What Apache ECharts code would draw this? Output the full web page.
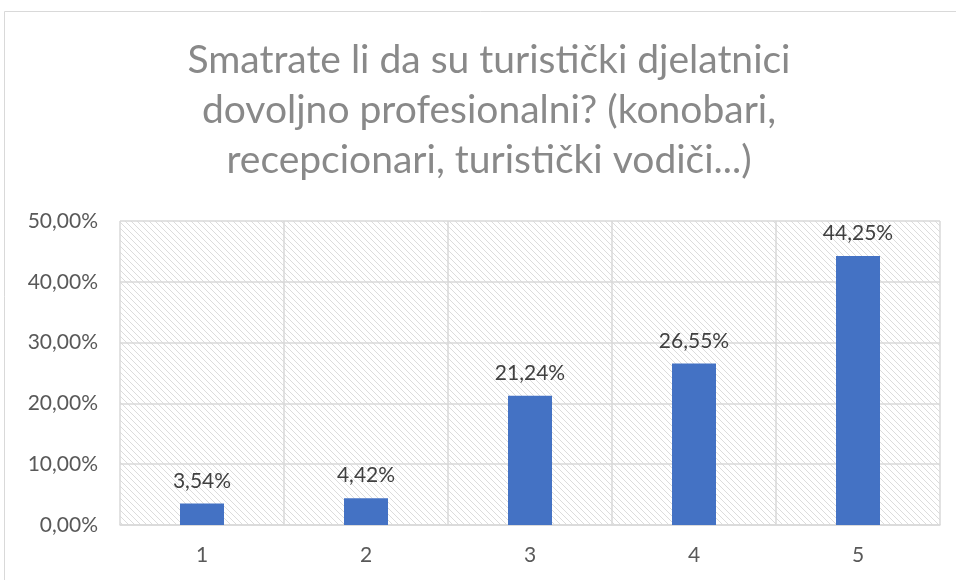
<!DOCTYPE html>
<html>
<head>
<meta charset="utf-8">
<script src="https://cdn.jsdelivr.net/npm/echarts@6/dist/echarts.min.js"></script>
<style>
  html, body { margin: 0; padding: 0; background: #fff; }
  #chart { width: 956px; height: 580px; }
</style>
</head>
<body>
<div id="chart"></div>
<script>
const titleText = "Smatrate li da su turistički djelatnici\ndovoljno profesionalni? (konobari,\nrecepcionari, turistički vodiči...)";
const categories = ["1", "2", "3", "4", "5"];
const values = [3.54, 4.42, 21.24, 26.55, 44.25];
const yTicks = [0, 10, 20, 30, 40, 50];

const fmt = (v) => v.toFixed(2).replace(".", ",") + "%";

// diagonal hatch for plot background
function hatch() {
  const c = document.createElement("canvas");
  c.width = 6;
  c.height = 6;
  const ctx = c.getContext("2d");
  ctx.fillStyle = "#fff";
  ctx.fillRect(0, 0, 6, 6);
  ctx.strokeStyle = "#dcdcdc";
  ctx.lineWidth = 1;
  ctx.beginPath();
  ctx.moveTo(-1, -1);
  ctx.lineTo(7, 7);
  ctx.moveTo(-4, 2);
  ctx.lineTo(4, 10);
  ctx.moveTo(2, -4);
  ctx.lineTo(10, 4);
  ctx.stroke();
  return c;
}

const chart = echarts.init(document.getElementById("chart"), null, { renderer: "canvas" });
chart.setOption({
  backgroundColor: "#fff",
  textStyle: { fontFamily: "Lato" },
  graphic: [
    {
      type: "rect",
      shape: { x: 4.5, y: 11.5, width: 960, height: 600 },
      style: { fill: "none", stroke: "#d9d9d9", lineWidth: 1 },
      silent: true,
    },
  ],
  title: {
    text: titleText,
    left: 484,
    top: 30,
    textAlign: "center",
    textStyle: { color: "#898989", fontSize: 39, fontWeight: "normal", lineHeight: 50, fontFamily: "Lato" },
  },
  grid: {
    left: 120,
    right: 16,
    top: 221,
    bottom: 55,
    show: true,
    borderWidth: 0,
    backgroundColor: { image: hatch(), repeat: "repeat" },
  },
  xAxis: {
    type: "category",
    data: categories,
    axisLine: { lineStyle: { color: "#d9d9d9", width: 1.5 } },
    axisTick: { show: false },
    axisLabel: { color: "#595959", fontSize: 21, margin: 20 },
    splitLine: { show: true, lineStyle: { color: "#d9d9d9", width: 1.5 } },
  },
  yAxis: {
    type: "value",
    min: 0,
    max: 50,
    interval: 10,
    axisLine: { show: false },
    axisTick: { show: false },
    axisLabel: {
      color: "#595959",
      fontSize: 21,
      margin: 22,
      formatter: (v) => (yTicks.includes(v) ? fmt(v) : ""),
    },
    splitLine: { lineStyle: { color: "#d9d9d9", width: 1.5 } },
  },
  series: [
    {
      type: "bar",
      data: values,
      barWidth: 44,
      itemStyle: { color: "#4472c4" },
      label: {
        show: true,
        position: "top",
        distance: 12,
        color: "#404040",
        fontSize: 21,
        formatter: (p) => fmt(p.value),
      },
    },
  ],
});
</script>
</body>
</html>
